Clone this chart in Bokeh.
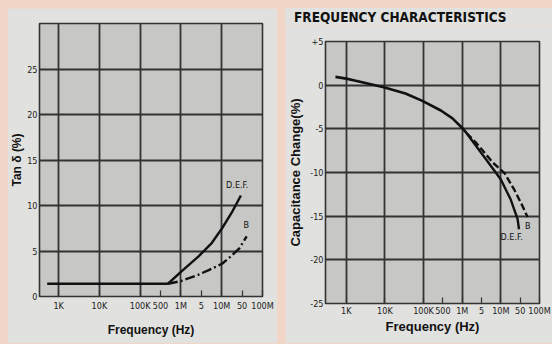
from bokeh.plotting import figure
from bokeh.layouts import row, column
from bokeh.models import FixedTicker, Label, Range1d, Spacer, Div, GlobalInlineStyleSheet
from bokeh.embed import file_html
from bokeh.resources import INLINE

# ---------------- data ----------------
# Left panel: Tan delta (%) vs frequency (Hz)
tan_flat_f = [525, 480000]
tan_flat_v = [1.4, 1.4]
tan_def_f = [480000, 1.0e6, 2.7e6, 5.75e6, 1.02e7, 1.8e7, 2.95e7]
tan_def_v = [1.4, 2.7, 4.4, 5.9, 7.5, 9.3, 11.1]
tan_b_f = [480000, 1.0e6, 2.7e6, 4.8e6, 1.02e7, 1.66e7, 2.7e7, 4.1e7]
tan_b_v = [1.4, 1.7, 2.4, 2.9, 3.6, 4.4, 5.3, 6.6]

# Right panel: capacitance change (%) vs frequency (Hz)
cap_common_f = [525, 1.0e3, 1.75e3, 9.3e3, 3.4e4, 9.3e4, 2.8e5, 5.6e5, 1.0e6, 1.3e6]
cap_common_v = [0.95, 0.75, 0.5, -0.25, -0.95, -1.8, -2.9, -3.8, -4.9, -5.5]
cap_def_f = [1.3e6, 4.3e6, 1.0e7, 1.8e7, 2.7e7, 2.95e7]
cap_def_v = [-5.5, -8.6, -10.8, -13.1, -15.3, -16.5]
cap_b_f = [1.3e6, 2.4e6, 6.3e6, 1.26e7, 2.24e7, 3.6e7, 4.9e7]
cap_b_v = [-5.5, -6.7, -8.9, -10.1, -12.0, -13.8, -15.1]

# tick marks as drawn on the original chart (the 500/5/50 marks sit mid-decade)
x_ticks = [1e3, 1e4, 1e5, 3.16e5, 1e6, 3.16e6, 1e7, 3.16e7, 1e8]
x_tick_labels = ["1K", "10K", "100K", "500", "1M", "5", "10M", "50", "100M"]
x_grid = [1e3, 1e4, 1e5, 1e6, 1e7]

tan_ticks = [0, 5, 10, 15, 20, 25]
tan_tick_labels = ["0", "5", "10", "15", "20", "25"]
cap_ticks = [5, 0, -5, -10, -15, -20, -25]
cap_tick_labels = ["+5", "0", "-5", "-10", "-15", "-20", "-25"]

TITLE = "FREQUENCY CHARACTERISTICS"

# ---------------- style ----------------
PEACH = "#f1d6c8"
PANEL = "#e1e1df"
PLOT = "#c7c7c5"
GRID = "#333333"
INK = "#111111"
NARROW = "'Liberation Sans Narrow', 'DejaVu Sans Condensed', 'Arial Narrow', sans-serif"


def style(p, yticks, ylabels, x_standoff):
    p.background_fill_color = PLOT
    p.border_fill_color = PANEL
    p.outline_line_color = GRID
    p.outline_line_width = 1.6
    p.xaxis.ticker = FixedTicker(ticks=x_ticks)
    p.xaxis.major_label_overrides = {t: l for t, l in zip(x_ticks, x_tick_labels)}
    p.xaxis.minor_tick_line_color = None
    p.xaxis.major_tick_in = 6
    p.xaxis.major_tick_out = 0
    p.xaxis.major_tick_line_color = GRID
    p.xaxis.major_tick_line_width = 1.2
    p.xaxis.axis_line_color = None
    p.xaxis.major_label_standoff = x_standoff
    p.yaxis.ticker = FixedTicker(ticks=yticks)
    p.yaxis.major_label_overrides = {t: l for t, l in zip(yticks, ylabels)}
    p.yaxis.minor_tick_line_color = None
    p.yaxis.major_tick_in = 0
    p.yaxis.major_tick_out = 0
    p.yaxis.axis_line_color = None
    p.yaxis.major_label_standoff = 2
    for ax in (p.xaxis, p.yaxis):
        ax.major_label_text_font = NARROW
        ax.major_label_text_font_size = "9px"
        ax.major_label_text_color = "#222222"
        ax.axis_label_text_font = "Liberation Sans"
        ax.axis_label_text_font_style = "bold"
        ax.axis_label_text_color = INK
    p.xgrid.ticker = FixedTicker(ticks=x_grid)
    p.xgrid.grid_line_color = GRID
    p.xgrid.grid_line_width = 1.8
    p.ygrid.grid_line_color = GRID
    p.ygrid.grid_line_width = 1.8


def lbl(p, x, y, text):
    p.add_layout(Label(x=x, y=y, text=text, text_align="center",
                       text_baseline="middle", text_font=NARROW,
                       text_font_size="9px", text_color=INK))


# ---------------- left figure ----------------
left = figure(width=270, height=335, x_axis_type="log",
              x_range=Range1d(340, 1e8), y_range=Range1d(0, 30),
              output_backend="svg", toolbar_location=None,
              min_border_left=32, min_border_right=15,
              min_border_top=15, min_border_bottom=47)
style(left, tan_ticks, tan_tick_labels, 4)
left.ygrid.ticker = FixedTicker(ticks=[5, 10, 15, 20, 25])
left.yaxis.axis_label = "Tan δ (%)"
left.yaxis.axis_label_text_font_size = "12px"
left.yaxis.axis_label_standoff = 0
left.xaxis.axis_label = "Frequency (Hz)"
left.xaxis.axis_label_text_font_size = "12px"
left.xaxis.axis_label_standoff = 9
left.line(tan_flat_f, tan_flat_v, line_color=INK, line_width=2.6)
left.line(tan_def_f, tan_def_v, line_color=INK, line_width=2.4)
left.line(tan_b_f, tan_b_v, line_color=INK, line_width=2.4, line_dash="10 3 2 3")
lbl(left, 2.4e7, 12.3, "D.E.F.")
lbl(left, 4.0e7, 7.9, "B")

# ---------------- right figure ----------------
right = figure(width=267, height=317, x_axis_type="log",
               x_range=Range1d(290, 1e8), y_range=Range1d(-25, 5),
               output_backend="svg", toolbar_location=None,
               min_border_left=38, min_border_right=13,
               min_border_top=15, min_border_bottom=40)
style(right, cap_ticks, cap_tick_labels, 2)
right.ygrid.ticker = FixedTicker(ticks=[0, -5, -10, -15, -20])
right.yaxis.axis_label = "Capacitance Change(%)"
right.yaxis.axis_label_text_font_size = "13px"
right.yaxis.axis_label_standoff = 4
right.xaxis.axis_label = "Frequency (Hz)"
right.xaxis.axis_label_text_font_size = "13px"
right.xaxis.axis_label_standoff = 0
right.line(cap_common_f, cap_common_v, line_color=INK, line_width=2.6)
right.line(cap_def_f, cap_def_v, line_color=INK, line_width=2.4)
right.line(cap_b_f, cap_b_v, line_color=INK, line_width=2.4, line_dash="7 3")
lbl(right, 5.0e7, -16.1, "B")
lbl(right, 1.9e7, -17.4, "D.E.F.")

title = Div(text=TITLE, width=267, height=18, margin=0,
            styles={"background-color": PANEL, "font-family": NARROW,
                    "font-weight": "bold", "font-size": "13.5px", "color": INK,
                    "line-height": "18px", "padding-left": "9px",
                    "box-sizing": "border-box", "white-space": "nowrap"})

right_col = column(title, right, spacing=0)
charts = row(Spacer(width=7, height=335), left, Spacer(width=8, height=335), right_col,
             spacing=0)
page = column(Spacer(width=552, height=8), charts, spacing=0,
              styles={"background-color": PEACH},
              stylesheets=[GlobalInlineStyleSheet(css="body { background: %s; }" % PEACH)])

open("out.html", "w").write(file_html(page, INLINE))
